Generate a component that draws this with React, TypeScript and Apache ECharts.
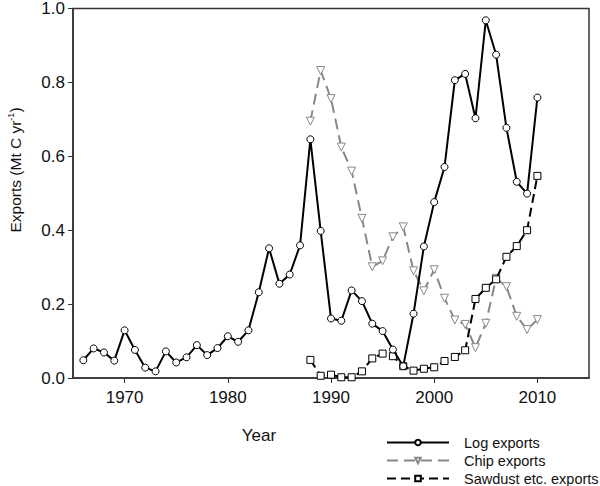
import React, { useEffect, useRef } from "react";
import * as echarts from "echarts";

const logYears: number[] = [
  1966, 1967, 1968, 1969, 1970, 1971, 1972, 1973, 1974, 1975, 1976, 1977, 1978, 1979, 1980,
  1981, 1982, 1983, 1984, 1985, 1986, 1987, 1988, 1989, 1990, 1991, 1992, 1993, 1994, 1995,
  1996, 1997, 1998, 1999, 2000, 2001, 2002, 2003, 2004, 2005, 2006, 2007, 2008, 2009, 2010,
];
const logExports: number[] = [
  0.048, 0.08, 0.069, 0.047, 0.129, 0.076, 0.028, 0.018, 0.072, 0.042, 0.056, 0.089, 0.062, 0.081, 0.113,
  0.098, 0.129, 0.232, 0.351, 0.255, 0.28, 0.359, 0.646, 0.398, 0.161, 0.155, 0.237, 0.208, 0.147, 0.127,
  0.077, 0.032, 0.174, 0.356, 0.476, 0.571, 0.806, 0.823, 0.703, 0.968, 0.875, 0.677, 0.531, 0.499, 0.759,
];
const otherYears: number[] = [
  1988, 1989, 1990, 1991, 1992, 1993, 1994, 1995, 1996, 1997, 1998, 1999, 2000, 2001, 2002,
  2003, 2004, 2005, 2006, 2007, 2008, 2009, 2010,
];
const chipExports: number[] = [
  0.695, 0.832, 0.756, 0.625, 0.56, 0.432, 0.301, 0.317, 0.382, 0.409, 0.29, 0.236, 0.293, 0.216, 0.157,
  0.145, 0.082, 0.148, 0.27, 0.247, 0.167, 0.131, 0.158,
];
const sawdustExports: number[] = [
  0.049, 0.006, 0.009, 0.002, 0.002, 0.018, 0.053, 0.066, 0.059, 0.032, 0.02, 0.025, 0.029, 0.046, 0.057,
  0.075, 0.214, 0.244, 0.267, 0.328, 0.357, 0.4, 0.547,
];
const seriesNames: string[] = ["Log exports", "Chip exports", "Sawdust etc. exports"];
const xTicks: number[] = [1970, 1980, 1990, 2000, 2010];

const FONT = "'Liberation Sans', Arial, sans-serif";

export default function App() {
  const ref = useRef<HTMLDivElement>(null);
  useEffect(() => {
    if (!ref.current) return;
    const chart = echarts.init(ref.current, null, { renderer: "svg" });
    const pair = (xs: number[], ys: number[]) => xs.map((x, i) => [x, ys[i]]);
    const legendRowTops = [435, 453, 471];
    chart.setOption({
      animation: false,
      backgroundColor: "#fff",
      textStyle: { fontFamily: FONT },
      grid: {
        left: 73,
        right: 11,
        top: 7,
        bottom: 108,
        show: true,
        borderColor: "#333",
        borderWidth: 1.5,
      },
      xAxis: {
        type: "value",
        min: 1965,
        max: 2015,
        interval: 5,
        axisLine: { lineStyle: { color: "#333", width: 1.5 } },
        axisTick: {
          show: true,
          length: 5,
          inside: false,
          lineStyle: { color: "#333" },
          customValues: xTicks,
        },
        axisLabel: {
          color: "#111",
          fontSize: 17,
          fontFamily: FONT,
          margin: 11,
          customValues: xTicks,
          formatter: (v: number) => String(v),
        },
        splitLine: { show: false },
      },
      yAxis: {
        type: "value",
        min: 0,
        max: 1,
        interval: 0.2,
        axisLine: { show: true, lineStyle: { color: "#333", width: 1.5 } },
        axisTick: { show: true, length: 5, lineStyle: { color: "#333" } },
        axisLabel: {
          color: "#111",
          fontSize: 17,
          fontFamily: FONT,
          margin: 8,
          formatter: (v: number) => v.toFixed(1),
        },
        splitLine: { show: false },
      },
      legend: seriesNames.map((name, i) => ({
        orient: "vertical",
        left: 386,
        top: legendRowTops[i],
        padding: 0,
        itemWidth: 62,
        itemHeight: 7,
        textStyle: { fontSize: 14.5, color: "#111", fontFamily: FONT, padding: [0, 0, 0, 10] },
        data: [name],
      })),
      graphic: [
        {
          type: "text",
          x: 15,
          y: 170,
          rotation: Math.PI / 2,
          style: {
            text: "Exports (Mt C yr{sup|-1})",
            font: `15.5px ${FONT}`,
            fill: "#111",
            align: "center",
            verticalAlign: "middle",
            rich: {
              sup: { fontSize: 9, fontFamily: FONT, fill: "#111", verticalAlign: "top", lineHeight: 18, padding: [0, 0, 8, 0] },
            },
          },
        },
        {
          type: "text",
          x: 259,
          y: 435,
          style: {
            text: "Year",
            font: `17px ${FONT}`,
            fill: "#111",
            align: "center",
            verticalAlign: "middle",
          },
        },
      ],
      series: [
        {
          name: seriesNames[0],
          type: "line",
          data: pair(logYears, logExports),
          symbol: "circle",
          symbolSize: 7,
          showAllSymbol: true,
          itemStyle: { color: "#fff", borderColor: "#000", borderWidth: 1 },
          lineStyle: { color: "#000", width: 2 },
          z: 4,
        },
        {
          name: seriesNames[1],
          type: "line",
          data: pair(otherYears, chipExports),
          symbol: "triangle",
          symbolRotate: 180,
          symbolSize: 8,
          showAllSymbol: true,
          itemStyle: { color: "#fff", borderColor: "#888", borderWidth: 1 },
          lineStyle: { color: "#888", width: 2, type: [11, 6] },
          z: 2,
        },
        {
          name: seriesNames[2],
          type: "line",
          data: pair(otherYears, sawdustExports),
          symbol: "rect",
          symbolSize: 7,
          showAllSymbol: true,
          itemStyle: { color: "#fff", borderColor: "#000", borderWidth: 1 },
          lineStyle: { color: "#000", width: 2, type: [9, 5] },
          z: 3,
        },
      ],
    });
    return () => chart.dispose();
  }, []);
  return <div ref={ref} style={{ width: 600, height: 486, position: "absolute", left: 0, top: 0 }} />;
}
